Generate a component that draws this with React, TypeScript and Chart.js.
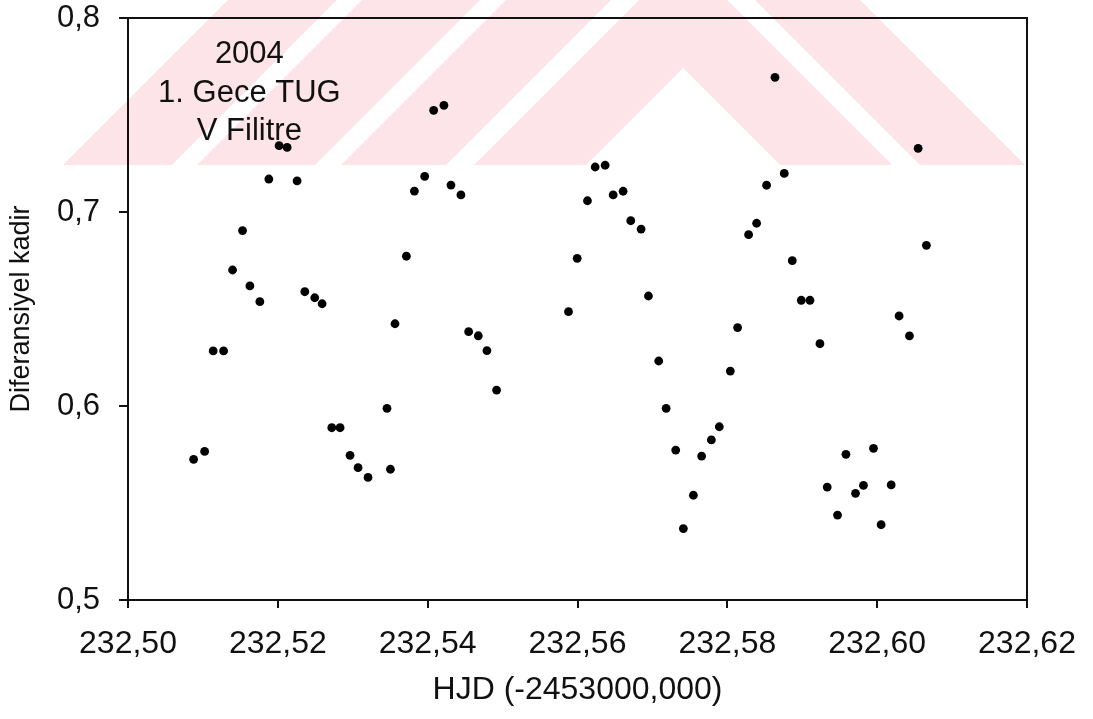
import React, { useEffect, useRef } from 'react';
import { Chart, registerables } from 'chart.js';

Chart.register(...registerables);

// HJD (-2453000) values
const hjd = [
  232.50876, 232.51023, 232.51137, 232.51276, 232.51396, 232.51529, 232.51627, 232.5176, 232.5188, 232.52017,
  232.52124, 232.52257, 232.5236, 232.52493, 232.52591, 232.5272, 232.52831, 232.52964, 232.53071, 232.53204,
  232.53457, 232.53503, 232.53564, 232.53716, 232.53823, 232.5396, 232.5408, 232.54217, 232.54311, 232.54444,
  232.54547, 232.54676, 232.54791, 232.5492, 232.5588, 232.55996, 232.56133, 232.56236, 232.56369, 232.56476,
  232.56609, 232.56711, 232.56849, 232.56947, 232.57084, 232.57183, 232.57311, 232.57413, 232.57547, 232.57657,
  232.57787, 232.57893, 232.5804, 232.58137, 232.58284, 232.58391, 232.58524, 232.58636, 232.5876, 232.58867,
  232.58987, 232.59103, 232.59236, 232.59333, 232.59471, 232.59583, 232.59711, 232.59817, 232.59951, 232.60053,
  232.60187, 232.60293, 232.60431, 232.60547, 232.60657,
];

// differential magnitudes
const diffMag = [
  0.5725, 0.5766, 0.6284, 0.6284, 0.6701, 0.6904, 0.6619, 0.6538, 0.717, 0.7342,
  0.7333, 0.716, 0.6589, 0.6558, 0.6527, 0.5888, 0.5888, 0.5746, 0.5682, 0.5632,
  0.5988, 0.5674, 0.6424, 0.6772, 0.7108, 0.7184, 0.7524, 0.755, 0.7139, 0.7088,
  0.6383, 0.6362, 0.6285, 0.6082, 0.6486, 0.6761, 0.7058, 0.7232, 0.7241, 0.7088,
  0.7107, 0.6955, 0.6912, 0.6567, 0.6232, 0.5988, 0.5773, 0.5368, 0.554, 0.5742,
  0.5825, 0.5893, 0.618, 0.6404, 0.6883, 0.6942, 0.7138, 0.7694, 0.7199, 0.6749,
  0.6545, 0.6545, 0.6321, 0.5582, 0.5438, 0.5751, 0.555, 0.5591, 0.5782, 0.5388,
  0.5593, 0.6464, 0.6361, 0.7328, 0.6828,
];

const xTicks = [232.5, 232.52, 232.54, 232.56, 232.58, 232.6, 232.62];
const yTicks = [0.5, 0.6, 0.7, 0.8];
const noteLines = ['2004', '1. Gece TUG', 'V Filitre'];
const xTitle = 'HJD (-2453000,000)';
const yTitle = 'Diferansiyel kadir';

const FONT = "'Liberation Sans', Arial, sans-serif";
const INK = '#111111';

const watermarkPlugin = {
  id: 'watermark',
  beforeDraw(chart: any) {
    const ctx = chart.ctx;
    const Y = 165;
    const ax = 683;
    const ay = 68;
    ctx.save();
    ctx.beginPath();
    ctx.rect(0, 0, chart.width, Y);
    ctx.clip();
    ctx.fillStyle = 'rgb(252,228,232)';
    const chevron = (a: number, b: number) => {
      ctx.beginPath();
      ctx.moveTo(ax + ay - b - Y, Y);
      ctx.lineTo(ax, ay - b);
      ctx.lineTo(ax - ay + b + Y, Y);
      ctx.lineTo(ax - ay + a + Y, Y);
      ctx.lineTo(ax, ay - a);
      ctx.lineTo(ax + ay - a - Y, Y);
      ctx.closePath();
      ctx.fill();
    };
    const stripe = (u1: number, u2: number) => {
      ctx.beginPath();
      ctx.moveTo(u1 - Y, Y);
      ctx.lineTo(u2 - Y, Y);
      ctx.lineTo(u2 + 100, -100);
      ctx.lineTo(u1 + 100, -100);
      ctx.closePath();
      ctx.fill();
    };
    chevron(0, 112);
    chevron(140, 245);
    stripe(362, 480);
    stripe(228, 337);
    ctx.restore();
  },
};

const framePlugin = {
  id: 'frame',
  afterDatasetsDraw(chart: any) {
    const { ctx, chartArea } = chart;
    ctx.save();
    ctx.strokeStyle = INK;
    ctx.lineWidth = 2;
    ctx.strokeRect(chartArea.left, chartArea.top, chartArea.right - chartArea.left, chartArea.bottom - chartArea.top);
    // annotation text
    const xs = chart.scales.x;
    const cx = xs.getPixelForValue(232.5162);
    ctx.fillStyle = INK;
    ctx.font = `31px ${FONT}`;
    ctx.textAlign = 'center';
    ctx.textBaseline = 'alphabetic';
    const offsets = [45, 84, 122];
    noteLines.forEach((t, i) => ctx.fillText(t, cx, chartArea.top + offsets[i]));
    ctx.restore();
  },
};

const zeroPad = (s: any) => {
  s.paddingTop = 0;
  s.paddingBottom = 0;
  s.paddingLeft = 0;
  s.paddingRight = 0;
};

export default function App() {
  const ref = useRef<HTMLCanvasElement | null>(null);
  useEffect(() => {
    if (!ref.current) return;
    const chart = new Chart(ref.current, {
      type: 'scatter',
      data: {
        datasets: [
          {
            label: 'V',
            data: hjd.map((x, i) => ({ x, y: diffMag[i] })),
            backgroundColor: '#000000',
            borderColor: '#000000',
            pointRadius: 4.4,
            pointHoverRadius: 4.4,
            borderWidth: 0,
          },
        ],
      },
      options: {
        responsive: false,
        animation: false,
        events: [],
        layout: { padding: { top: 18, right: 66, left: 0, bottom: 0 } },
        plugins: {
          legend: { display: false },
          tooltip: { enabled: false },
        },
        scales: {
          x: {
            type: 'linear',
            min: 232.5,
            max: 232.62,
            afterBuildTicks: (s: any) => {
              s.ticks = xTicks.map((v) => ({ value: v }));
            },
            afterFit: (s: any) => {
              s.height = 119;
              zeroPad(s);
            },
            grid: { drawOnChartArea: false, drawTicks: true, tickLength: 8, color: INK, lineWidth: 2 },
            border: { display: true, color: INK, width: 2 },
            ticks: {
              color: INK,
              font: { family: FONT, size: 32 },
              padding: 17,
              maxRotation: 0,
              autoSkip: false,
              callback: (v: any) => Number(v).toFixed(2).replace('.', ','),
            },
            title: {
              display: true,
              text: xTitle,
              color: INK,
              font: { family: FONT, size: 32 },
              padding: { top: 0, bottom: 10 },
            },
          },
          y: {
            type: 'linear',
            min: 0.5,
            max: 0.8,
            afterBuildTicks: (s: any) => {
              s.ticks = yTicks.map((v) => ({ value: v }));
            },
            afterFit: (s: any) => {
              s.width = 128;
              zeroPad(s);
            },
            grid: { drawOnChartArea: false, drawTicks: true, tickLength: 9, color: INK, lineWidth: 2 },
            border: { display: true, color: INK, width: 2 },
            ticks: {
              color: INK,
              font: { family: FONT, size: 31 },
              padding: 19,
              autoSkip: false,
              callback: (v: any) => Number(v).toFixed(1).replace('.', ','),
            },
            title: {
              display: true,
              text: yTitle,
              color: INK,
              font: { family: FONT, size: 27 },
              padding: { top: 5, bottom: 0 },
            },
          },
        },
      },
      plugins: [watermarkPlugin, framePlugin],
    });
    return () => chart.destroy();
  }, []);
  return (
    <canvas
      ref={ref}
      width={1093}
      height={719}
      style={{ position: 'fixed', left: 0, top: 0, width: 1093, height: 719, display: 'block' }}
    />
  );
}
